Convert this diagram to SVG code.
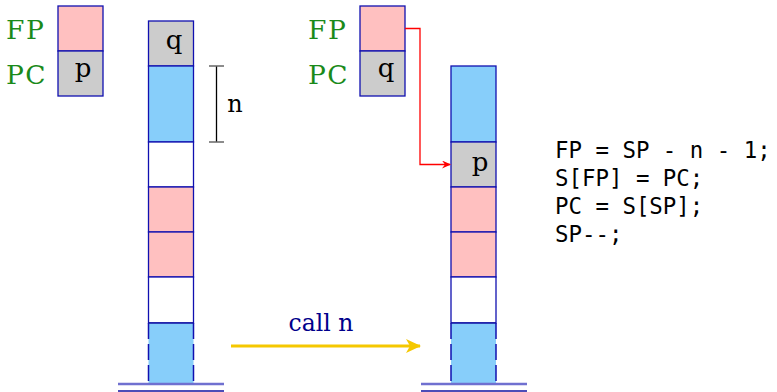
<svg xmlns="http://www.w3.org/2000/svg" width="777" height="392" viewBox="0 0 777 392">
<style>
.cell{stroke:#1010b0;stroke-width:1.3}
.pink{fill:#ffc0c0}
.gray{fill:#cccccc}
.blue{fill:#87cefa}
.white{fill:#ffffff}
.reg{font-family:"DejaVu Serif",serif;font-size:26.5px;fill:#1a8a1a;letter-spacing:1.5px}
.val{font-family:"DejaVu Serif",serif;font-size:26px;fill:#000;text-anchor:middle}
.code{font-family:"DejaVu Sans Mono",monospace;font-size:22.4px;fill:#000}
.side{stroke:#1010b0;stroke-width:1.5;stroke-dasharray:16 5}
.base1{stroke:#7070d0;stroke-width:2.5}
.base2{stroke:#1010a0;stroke-width:1.5}
</style>
<defs>
<marker id="redhead" markerWidth="10" markerHeight="8" refX="8" refY="4" orient="auto" markerUnits="userSpaceOnUse">
<path d="M0,0 L9,4 L0,8 L3,4 Z" fill="#ff0000"/>
</marker>
<marker id="yhead" markerWidth="16" markerHeight="14" refX="14" refY="7" orient="auto" markerUnits="userSpaceOnUse">
<path d="M0,0 L15,7 L0,14 L4,7 Z" fill="#f5c800"/>
</marker>
</defs>

<g id="regs-before">
<text class="reg" x="6" y="38.5">FP</text>
<text class="reg" x="6" y="83.5">PC</text>
<rect class="cell pink" x="58" y="6" width="45" height="45"/>
<rect class="cell gray" x="58" y="51" width="45" height="45"/>
<text class="val" x="83" y="77">p</text>
</g>

<g id="stack-before">
<rect class="cell gray" x="148.5" y="21" width="45" height="45"/>
<text class="val" x="174" y="49">q</text>
<rect class="cell blue" x="148.5" y="66" width="45" height="76"/>
<rect class="cell white" x="148.5" y="142" width="45" height="45"/>
<rect class="cell pink" x="148.5" y="187" width="45" height="45"/>
<rect class="cell pink" x="148.5" y="232" width="45" height="45"/>
<rect class="cell white" x="148.5" y="277" width="45" height="46"/>
<rect x="148.5" y="323" width="45" height="60.5" fill="#87cefa"/>
<line class="base2" x1="148.5" y1="323" x2="193.5" y2="323"/>
<line class="side" x1="148.5" y1="323" x2="148.5" y2="384"/>
<line class="side" x1="193.5" y1="323" x2="193.5" y2="384"/>
<line class="base1" x1="118" y1="384" x2="224" y2="384"/>
<line class="base2" x1="118" y1="391" x2="224" y2="391"/>
</g>

<g id="n-bracket">
<line x1="216.5" y1="66" x2="216.5" y2="142" stroke="#000" stroke-width="1.3"/>
<line x1="209" y1="66" x2="224" y2="66" stroke="#666" stroke-width="1.5"/>
<line x1="209" y1="142" x2="224" y2="142" stroke="#666" stroke-width="1.5"/>
<text class="val" x="235" y="112" style="font-size:24px">n</text>
</g>

<g id="regs-after">
<text class="reg" x="308" y="38.5">FP</text>
<text class="reg" x="308" y="83.5">PC</text>
<rect class="cell pink" x="360" y="6" width="45" height="45"/>
<rect class="cell gray" x="360" y="51" width="45" height="45"/>
<text class="val" x="386" y="77">q</text>
</g>

<g id="stack-after">
<rect class="cell blue" x="451" y="66" width="45" height="76"/>
<rect class="cell gray" x="451" y="142" width="45" height="45"/>
<text class="val" x="480" y="171">p</text>
<rect class="cell pink" x="451" y="187" width="45" height="45"/>
<rect class="cell pink" x="451" y="232" width="45" height="45"/>
<rect class="cell white" x="451" y="277" width="45" height="46"/>
<rect x="451" y="323" width="45" height="60.5" fill="#87cefa"/>
<line class="base2" x1="451" y1="323" x2="496" y2="323"/>
<line class="side" x1="451" y1="323" x2="451" y2="384"/>
<line class="side" x1="496" y1="323" x2="496" y2="384"/>
<line class="base1" x1="421" y1="384" x2="527" y2="384"/>
<line class="base2" x1="421" y1="391" x2="527" y2="391"/>
</g>

<g id="code">
<text class="code" x="555" y="157.5">FP = SP - n - 1;</text>
<text class="code" x="555" y="185.5">S[FP] = PC;</text>
<text class="code" x="555" y="213.5">PC = S[SP];</text>
<text class="code" x="555" y="241.5">SP--;</text>
</g>

<g id="connectors">
<polyline points="405,28.5 420,28.5 420,164.5 450,164.5" fill="none" stroke="#ff0000" stroke-width="1.3" marker-end="url(#redhead)"/>
<line x1="231" y1="346" x2="420" y2="346" stroke="#f5c800" stroke-width="3" marker-end="url(#yhead)"/>
<text x="321" y="331" font-family="DejaVu Serif, serif" font-size="23.5" fill="#00008b" text-anchor="middle">call n</text>
</g>
</svg>
